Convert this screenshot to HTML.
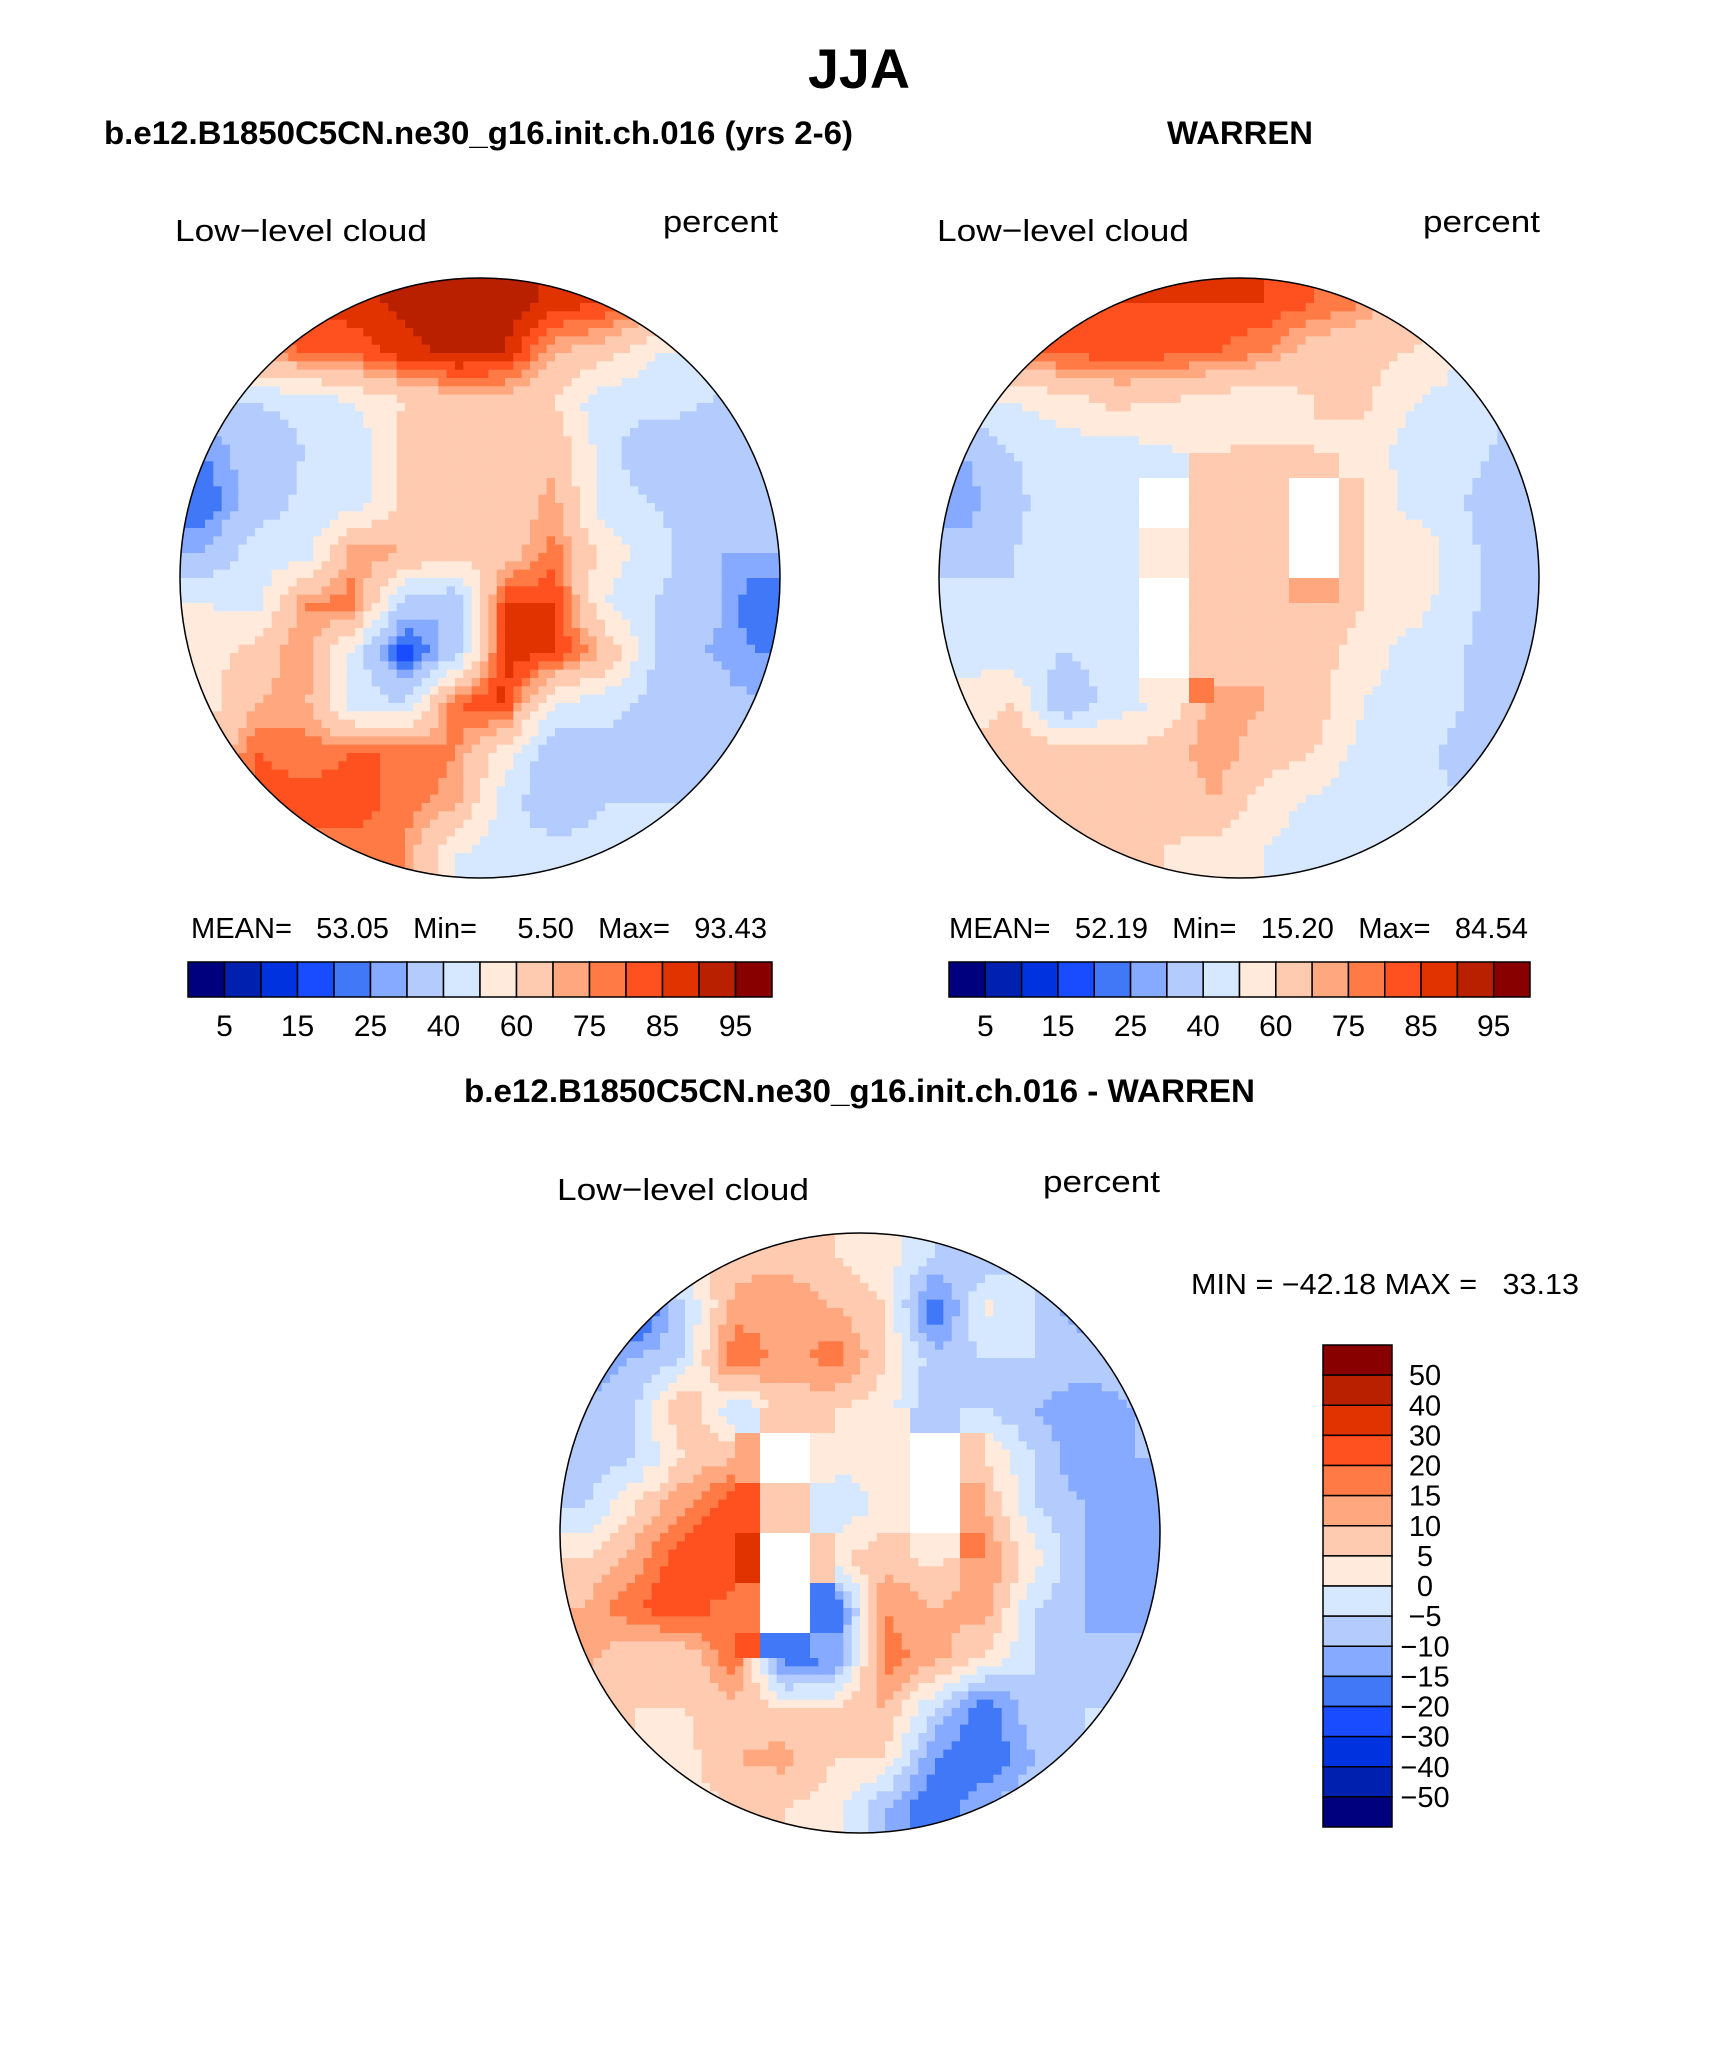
<!DOCTYPE html>
<html><head><meta charset="utf-8"><style>
html,body{margin:0;padding:0;background:#fff;}
svg{display:block;}
text{font-family:"Liberation Sans",sans-serif;fill:#000;}
</style></head><body>
<svg id="fig" width="1710" height="2056" viewBox="0 0 1710 2056" xmlns="http://www.w3.org/2000/svg">
<defs>
<clipPath id="c1"><circle cx="480" cy="578" r="300"/></clipPath>
<clipPath id="c2"><circle cx="1239" cy="578" r="300"/></clipPath>
<clipPath id="c3"><circle cx="860" cy="1533" r="300"/></clipPath>
</defs>
<text x="808" y="88" font-size="56" font-weight="bold" textLength="102" lengthAdjust="spacingAndGlyphs">JJA</text>
<text x="104" y="144" font-size="32" font-weight="bold" textLength="749" lengthAdjust="spacingAndGlyphs">b.e12.B1850C5CN.ne30_g16.init.ch.016 (yrs 2-6)</text>
<text x="1167" y="144" font-size="32" font-weight="bold" textLength="146" lengthAdjust="spacingAndGlyphs">WARREN</text>
<text x="175" y="241" font-size="31" textLength="252" lengthAdjust="spacingAndGlyphs">Low−level cloud</text>
<text x="663" y="232" font-size="31" textLength="115" lengthAdjust="spacingAndGlyphs">percent</text>
<text x="937" y="241" font-size="31" textLength="252" lengthAdjust="spacingAndGlyphs">Low−level cloud</text>
<text x="1423" y="232" font-size="31" textLength="117" lengthAdjust="spacingAndGlyphs">percent</text>
<g id="map1" clip-path="url(#c1)"></g>
<g id="map2" clip-path="url(#c2)"></g>
<circle cx="480" cy="578" r="300" fill="none" stroke="#000" stroke-width="1.5"/>
<circle cx="1239" cy="578" r="300" fill="none" stroke="#000" stroke-width="1.5"/>
<text x="191" y="938" font-size="29" xml:space="preserve" textLength="576" lengthAdjust="spacingAndGlyphs">MEAN=   53.05   Min=     5.50   Max=   93.43</text>
<text x="949" y="938" font-size="29" xml:space="preserve" textLength="579" lengthAdjust="spacingAndGlyphs">MEAN=   52.19   Min=   15.20   Max=   84.54</text>
<g id="cb1"></g>
<g id="cb2"></g>
<text x="464" y="1102" font-size="32" font-weight="bold" textLength="791" lengthAdjust="spacingAndGlyphs">b.e12.B1850C5CN.ne30_g16.init.ch.016 - WARREN</text>
<text x="557" y="1200" font-size="31" textLength="252" lengthAdjust="spacingAndGlyphs">Low−level cloud</text>
<text x="1043" y="1192" font-size="31" textLength="117" lengthAdjust="spacingAndGlyphs">percent</text>
<g id="map3" clip-path="url(#c3)"></g>
<circle cx="860" cy="1533" r="300" fill="none" stroke="#000" stroke-width="1.5"/>
<text x="1191" y="1294" font-size="29" xml:space="preserve" textLength="388" lengthAdjust="spacingAndGlyphs">MIN = −42.18 MAX =   33.13</text>
<g id="cb3"></g>
</svg>
<script>
const colors = ["#00007f","#0020b0","#0033e0","#1a4cff","#4078f8","#85aaff","#b3ccfd","#d6e8ff","#ffeadb","#ffcbb0","#ffa880","#ff7a45","#ff5020","#e03300","#b82000","#880000"];
const absLevels = [5,10,15,20,25,30,40,50,60,70,75,80,85,90,95];
const absTickLabels = ["5","15","25","40","60","75","85","95"];
const diffLevels = [-50,-40,-30,-20,-15,-10,-5,0,5,10,15,20,30,40,50];
const diffTickLabels = ["50","40","30","20","15","10","5","0","−5","−10","−15","−20","−30","−40","−50"];
const N = null;
const modelField = [
[80,80,85,88,92,93,93,88,85,80,75,70],
[60,75,80,82,88,92,90,70,65,50,45,40],
[35,40,42,50,60,65,65,60,42,45,40,35],
[25,35,40,42,65,70,70,68,45,30,35,35],
[20,35,42,45,62,65,65,72,45,40,35,30],
[30,45,45,75,70,65,65,78,55,45,30,30],
[50,45,75,78,35,30,85,85,50,40,35,20],
[55,65,75,45,15,35,88,85,70,40,30,25],
[55,70,72,45,40,80,86,50,45,35,35,30],
[60,80,78,80,80,75,55,30,35,40,35,30],
[70,82,82,82,78,72,45,30,40,40,40,40],
[75,80,78,78,75,50,45,45,45,45,40,40]];
const obsField = [
[80,82,85,85,85,85,85,80,75,65,60,50],
[75,80,82,82,82,80,75,65,62,60,50,45],
[45,50,55,62,60,55,50,60,62,50,45,40],
[30,40,45,45,48,60,62,60,55,45,42,38],
[25,38,45,45,N,62,65,N,60,45,40,35],
[35,40,45,48,55,62,62,N,60,60,42,35],
[45,40,45,48,N,60,65,70,60,55,42,35],
[45,45,40,45,N,60,70,65,55,45,40,35],
[55,60,30,45,50,75,70,65,50,45,40,35],
[60,68,65,62,65,75,65,60,45,42,38,35],
[65,70,68,65,62,70,55,48,45,42,40,38],
[65,65,65,62,60,55,50,45,45,45,42,40]];
const diffField = [
[2,2,3,8,8,5,2,-5,-10,-5,-8,-10],
[-10,-25,-5,12,15,10,5,-20,2,-5,-15,-20],
[-15,-10,-5,20,12,18,5,-8,-5,-5,-5,-5],
[-10,-5,10,-5,8,5,3,-10,-5,-10,-15,-10],
[-8,-5,5,10,N,2,2,N,5,-5,-15,-10],
[-5,5,15,25,8,-5,2,N,10,-5,-10,-15],
[5,12,25,30,N,5,8,3,15,2,-10,-10],
[10,20,25,15,N,-20,15,10,12,-5,-10,-15],
[12,5,5,20,-20,-15,18,12,5,-5,-10,-5],
[5,5,5,8,5,5,10,-5,-20,-5,-5,-5],
[8,5,3,10,12,5,5,-15,-20,-10,-5,-5],
[5,5,3,5,5,2,-10,-20,-10,-5,-5,-5]];

const NS = "http://www.w3.org/2000/svg";
function levelColor(v, levels){
  if (v === null) return "#ffffff";
  let i = 0; while (i < levels.length && v >= levels[i]) i++;
  return colors[i];
}
function sample(f, fx, fy){
  const n = f.length;
  let gx = Math.min(Math.max(fx*n-0.5,0),n-1), gy = Math.min(Math.max(fy*n-0.5,0),n-1);
  const x0 = Math.floor(gx), y0 = Math.floor(gy);
  const x1 = Math.min(x0+1,n-1), y1 = Math.min(y0+1,n-1);
  const tx = gx-x0, ty = gy-y0;
  const near = f[Math.round(gy)][Math.round(gx)];
  if (near === null) return null;
  const a=f[y0][x0], b=f[y0][x1], c=f[y1][x0], d=f[y1][x1];
  if (a===null||b===null||c===null||d===null) return near;
  return (a*(1-tx)+b*tx)*(1-ty)+(c*(1-tx)+d*tx)*ty;
}
function drawMap(gid, f, cx, cy, r, levels){
  const g = document.getElementById(gid);
  const M = 72, s = 2*r/M;
  for (let j=0;j<M;j++) for (let i=0;i<M;i++){
    const v = sample(f,(i+0.5)/M,(j+0.5)/M);
    const el = document.createElementNS(NS,"rect");
    
    
    el.setAttribute("x",(cx-r+i*s).toFixed(2));
    el.setAttribute("y",(cy-r+j*s).toFixed(2));
    el.setAttribute("width",(s+0.6).toFixed(2));
    el.setAttribute("height",(s+0.6).toFixed(2));
    el.setAttribute("fill",levelColor(v,levels));
    g.appendChild(el);
  }
}
drawMap("map1", modelField, 480, 578, 300, absLevels);
drawMap("map2", obsField, 1239, 578, 300, absLevels);
drawMap("map3", diffField, 860, 1533, 300, diffLevels);

function hbar(gid, x0, x1, y0, y1){
  const g = document.getElementById(gid);
  const w = (x1-x0)/colors.length;
  colors.forEach((c,k)=>{
    const el = document.createElementNS(NS,"rect");
    
    
    el.setAttribute("x",x0+k*w); el.setAttribute("y",y0);
    el.setAttribute("width",w); el.setAttribute("height",y1-y0);
    el.setAttribute("fill",c); el.setAttribute("stroke","#000"); el.setAttribute("stroke-width","1.5");
    g.appendChild(el);
  });
  absTickLabels.forEach((t,k)=>{
    const el = document.createElementNS(NS,"text");
    
    
    el.setAttribute("x",x0+(1+2*k)*w); el.setAttribute("y",1036);
    el.setAttribute("font-size","30"); el.setAttribute("text-anchor","middle");
    el.textContent = t; g.appendChild(el);
  });
}
hbar("cb1",188,772,962,997);
hbar("cb2",949,1530,962,997);

(function(){
  const g = document.getElementById("cb3");
  const x0=1323, x1=1392, y0=1345, y1=1827;
  const h = (y1-y0)/colors.length;
  colors.slice().reverse().forEach((c,k)=>{
    const el = document.createElementNS(NS,"rect");
    
    
    el.setAttribute("x",x0); el.setAttribute("y",y0+k*h);
    el.setAttribute("width",x1-x0); el.setAttribute("height",h);
    el.setAttribute("fill",c); el.setAttribute("stroke","#000"); el.setAttribute("stroke-width","1.5");
    g.appendChild(el);
  });
  diffTickLabels.forEach((t,k)=>{
    const el = document.createElementNS(NS,"text");
    
    
    el.setAttribute("x",1425); el.setAttribute("y",y0+(k+1)*h+10);
    el.setAttribute("font-size","29"); el.setAttribute("text-anchor","middle");
    el.textContent = t; g.appendChild(el);
  });
})();
</script>
</body></html>
